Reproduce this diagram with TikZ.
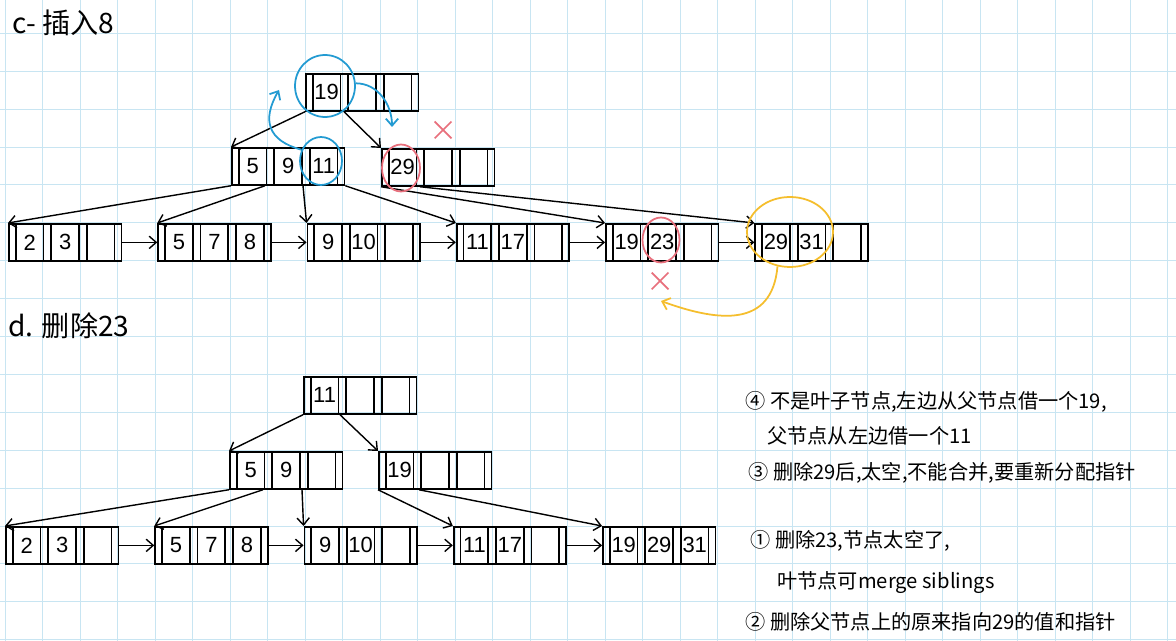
\documentclass[tikz,border=0pt]{standalone}
\usepackage{fontspec}
\usetikzlibrary{positioning, arrows.meta, shapes.multipart, shapes.geometric, shapes.misc, calc}
\newfontfamily\cjk{Noto Sans CJK SC}
\newfontfamily\digits{Liberation Sans}
\definecolor{gridblue}{RGB}{200,229,242}
\definecolor{penblue}{RGB}{35,155,210}
\definecolor{penred}{RGB}{232,112,125}
\definecolor{penyellow}{RGB}{245,190,45}

% cells of one B+ tree node: pointer, key, pointer, key, pointer, key, pointer
\newcommand{\ptrcell}{\makebox[0.12cm]{}}
\newcommand{\keycell}[1]{\makebox[0.52cm]{#1}}
\newcommand{\bkeys}[3]{\ptrcell\nodepart{two}\keycell{#1}\nodepart{three}\ptrcell\nodepart{four}\keycell{#2}\nodepart{five}\ptrcell\nodepart{six}\keycell{#3}\nodepart{seven}\ptrcell}

\begin{document}
\begin{tikzpicture}[
    x=0.02cm, y=-0.02cm,
    gridline/.style={draw=gridblue, line width=0.5pt},
    bnode/.style={draw, line width=1pt, rectangle split, rectangle split horizontal, rectangle split parts=7, inner xsep=0pt, inner ysep=0pt, minimum height=0.74cm, font=\digits\fontsize{12.5}{12.5}\selectfont},
    arr/.style={-{Straight Barb[length=4pt,width=7pt]}, line width=0.8pt},
    penarr/.style={-{Straight Barb[length=4pt,width=7pt]}, line width=1pt},
    notetext/.style={anchor=west, inner sep=0pt, font=\cjk\fontsize{11.5}{12}\selectfont},
    headtext/.style={anchor=west, inner sep=0pt, font=\cjk\fontsize{16}{16}\selectfont},
    keyring/.style={draw, ellipse, line width=1pt, inner sep=0pt},
    xmark/.style={draw=penred, cross out, line width=1pt, minimum size=0.3cm, inner sep=0pt}
]
    % paper with grid
    \fill[white] (0,0) rectangle (1176,641);
    \useasboundingbox (0,0) rectangle (1176,641);
    \foreach \i in {0,...,31} \draw[gridline] ({5+37.5*\i},0) -- ({5+37.5*\i},641);
    \foreach \j in {0,...,16} \draw[gridline] (0,{33.3+37.9*\j}) -- (1176,{33.3+37.9*\j});

    % c: insert 8
    \node[headtext] (ctitle) at (12,23) {c- 插入8};
    \node[bnode, anchor=north west] (c19) at (305,73) {\bkeys{19}{}{}};
    \node[bnode, anchor=north west] (c5911) at (231,147) {\bkeys{5}{9}{11}};
    \node[bnode, anchor=north west] (c29) at (381,148) {\bkeys{29}{}{}};
    \node[bnode, anchor=north west] (cl1) at (8,223) {\bkeys{2}{3}{}};
    \node[bnode, right=0.7cm of cl1] (cl2) {\bkeys{5}{7}{8}};
    \node[bnode, right=0.7cm of cl2] (cl3) {\bkeys{9}{10}{}};
    \node[bnode, right=0.7cm of cl3] (cl4) {\bkeys{11}{17}{}};
    \node[bnode, right=0.7cm of cl4] (cl5) {\bkeys{19}{23}{}};
    \node[bnode, right=0.7cm of cl5] (cl6) {\bkeys{29}{31}{}};

    \draw[arr] (c19.south west) -- (c5911.north west);
    \draw[arr] ($(c19.south west)+(39,0)$) -- (c29.north west);
    \draw[arr] (c5911.south west) -- (cl1.north west);
    \draw[arr] ($(c5911.south west)+(34,0)$) -- (cl2.north west);
    \draw[arr] ($(c5911.south west)+(72,0)$) -- (cl3.north west);
    \draw[arr] (c5911.south east) -- (cl4.north west);
    \draw[arr] (c29.south west) -- (cl5.north west);
    \draw[arr] ($(c29.south west)+(39,0)$) -- (cl6.north west);
    \foreach \a/\b in {cl1/cl2, cl2/cl3, cl3/cl4, cl4/cl5, cl5/cl6}
        \draw[arr] (\a.east) -- (\b.west);

    % pen marks
    \node[keyring, draw=penblue, minimum width=1.2cm, minimum height=1.24cm] (o19) at (325,86) {};
    \node[keyring, draw=penblue, minimum width=0.84cm, minimum height=0.96cm] (o11) at (321,161) {};
    \node[keyring, draw=penred, minimum width=0.76cm, minimum height=0.94cm] (o29) at (401,168) {};
    \node[xmark] (x29) at (443,130) {};
    \node[keyring, draw=penred, minimum width=0.74cm, minimum height=0.9cm] (o23) at (661,240) {};
    \node[xmark] (x23) at (660,281) {};
    \node[keyring, draw=penyellow, minimum width=1.72cm, minimum height=1.4cm] (o2931) at (790,232) {};
    \coordinate (bluetip1) at (392,127);
    \coordinate (bluetip2) at (279,90);
    \coordinate (yellowtip) at (661,301);
    \draw[penarr, penblue] (o19.5) to[out=0, in=90] (bluetip1);
    \draw[penarr, penblue] (o11.150) to[out=165, in=240, looseness=1.4] (bluetip2);
    \draw[penarr, penyellow] (o2931.250) to[out=265, in=-20, looseness=1.3] (yellowtip);

    % d: delete 23
    \node[headtext] (dtitle) at (8,326) {d. 删除23};
    \node[bnode, anchor=north west] (d11) at (303,376) {\bkeys{11}{}{}};
    \node[bnode, anchor=north west] (d59) at (229,451) {\bkeys{5}{9}{}};
    \node[bnode, anchor=north west] (d19) at (378,451) {\bkeys{19}{}{}};
    \node[bnode, anchor=north west] (dl1) at (5,526) {\bkeys{2}{3}{}};
    \node[bnode, right=0.7cm of dl1] (dl2) {\bkeys{5}{7}{8}};
    \node[bnode, right=0.7cm of dl2] (dl3) {\bkeys{9}{10}{}};
    \node[bnode, right=0.7cm of dl3] (dl4) {\bkeys{11}{17}{}};
    \node[bnode, right=0.7cm of dl4] (dl5) {\bkeys{19}{29}{31}};

    \draw[arr] (d11.south west) -- (d59.north west);
    \draw[arr] ($(d11.south west)+(37,0)$) -- (d19.north west);
    \draw[arr] (d59.south west) -- (dl1.north west);
    \draw[arr] ($(d59.south west)+(34,0)$) -- (dl2.north west);
    \draw[arr] ($(d59.south west)+(73,0)$) -- (dl3.north west);
    \draw[arr] (d19.south west) -- (dl4.north west);
    \draw[arr] ($(d19.south west)+(41,0)$) -- (dl5.north west);
    \foreach \a/\b in {dl1/dl2, dl2/dl3, dl3/dl4, dl4/dl5}
        \draw[arr] (\a.east) -- (\b.west);

    % notes
    \node[notetext] (n4) at (745,402) {④ 不是叶子节点,左边从父节点借一个19,};
    \node[notetext] (n4b) at (767,436) {父节点从左边借一个11};
    \node[notetext] (n3) at (748,473) {③ 删除29后,太空,不能合并,要重新分配指针};
    \node[notetext] (n1) at (750,541) {① 删除23,节点太空了,};
    \node[notetext] (n1b) at (777,583) {叶节点可merge siblings};
    \node[notetext] (n2) at (745,622) {② 删除父节点上的原来指向29的值和指针};
\end{tikzpicture}
\end{document}
